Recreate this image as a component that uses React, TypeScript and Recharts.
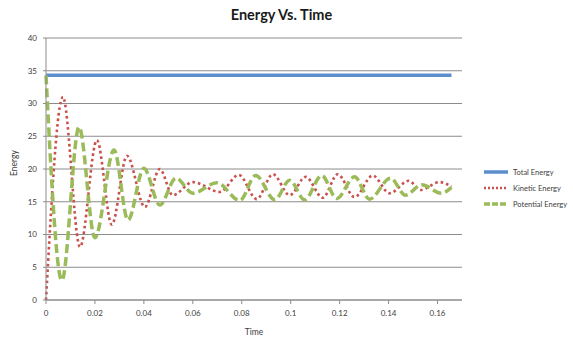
import React from "react";
import { LineChart, Line, XAxis, YAxis, CartesianGrid, Legend } from "recharts";

const timeTicks = [0, 0.02, 0.04, 0.06, 0.08, 0.1, 0.12, 0.14, 0.16];
const energyTicks = [0, 5, 10, 15, 20, 25, 30, 35, 40];

const totalTime = [0, 0.1657];
const totalEnergy = [34.3, 34.3];

const kineticTime = [
  0, 0.0069, 0.0139, 0.0208, 0.0269, 0.0331, 0.0404, 0.0465, 0.0518, 0.06,
  0.071, 0.0788, 0.0861, 0.0927, 0.0996, 0.1061, 0.1131, 0.1192, 0.1261,
  0.1335, 0.1404, 0.1482, 0.1531, 0.1608, 0.1657,
];
const kineticEnergy = [
  0, 31.0, 8.1, 24.4, 11.5, 22.0, 14.2, 20.0, 16.0, 18.0, 16.5, 19.1, 15.4,
  19.2, 16.0, 18.8, 15.6, 19.2, 15.7, 19.0, 16.3, 18.2, 16.8, 18.0, 17.3,
];

const potentialTime = [
  0, 0.0065, 0.0135, 0.02, 0.0278, 0.0335, 0.04, 0.0465, 0.0531, 0.06, 0.0698,
  0.0792, 0.0857, 0.0935, 0.0996, 0.1057, 0.1127, 0.1188, 0.1261, 0.1322,
  0.1408, 0.1469, 0.1535, 0.1616, 0.1657,
];
const potentialEnergy = [
  34.3, 3.0, 26.4, 9.5, 22.9, 12.2, 20.1, 14.5, 18.6, 16.3, 17.9, 15.2, 19.0,
  15.3, 18.3, 15.3, 19.0, 15.5, 18.8, 15.4, 18.6, 16.0, 17.6, 16.3, 17.2,
];

const toPoints = (ts: number[], vs: number[]) =>
  ts.map((t, i) => ({ t, e: vs[i] }));

const BLUE = "#5A8FCB";
const RED = "#C9504C";
const GREEN = "#9BBB59";
const GRID = "#8C8C8C";
const FONT = "Lato, 'Open Sans', sans-serif";

const legendItems = [
  { name: "Total Energy", color: BLUE, dash: undefined, width: 3.5 },
  { name: "Kinetic Energy", color: RED, dash: "2 2", width: 2.5 },
  { name: "Potential Energy", color: GREEN, dash: "6 2", width: 3.5 },
];

const LegendBox = () => (
  <div
    style={{
      fontFamily: FONT,
      fontSize: 7.5,
      color: "#404040",
      whiteSpace: "nowrap",
    }}
  >
    {legendItems.map((item) => (
      <div
        key={item.name}
        style={{ display: "flex", alignItems: "center", height: 16 }}
      >
        <svg width={26} height={8} style={{ marginRight: 3 }}>
          <line
            x1={0}
            y1={4}
            x2={24}
            y2={4}
            stroke={item.color}
            strokeWidth={item.width}
            strokeDasharray={item.dash}
          />
        </svg>
        <span>{item.name}</span>
      </div>
    ))}
  </div>
);

export default function App() {
  return (
    <div
      style={{
        position: "absolute",
        left: 0,
        top: 0,
        width: 573,
        height: 338,
        background: "#fff",
        fontFamily: FONT,
      }}
    >
      <div
        style={{
          position: "absolute",
          left: 0,
          width: 573,
          top: 6,
          textAlign: "center",
          fontSize: 14.5,
          fontWeight: 700,
          color: "#1a1a1a",
        }}
      >
        <span style={{ position: "relative", left: -5 }}>Energy Vs. Time</span>
      </div>
      <LineChart
        width={573}
        height={338}
        margin={{ top: 38, right: 111, bottom: 0, left: 0 }}
      >
        <CartesianGrid vertical={false} stroke={GRID} />
        <XAxis
          dataKey="t"
          type="number"
          domain={[0, 0.17]}
          ticks={timeTicks}
          height={38}
          stroke={GRID}
          tickSize={4}
          tickMargin={6}
          tick={{ fontSize: 8, fill: "#404040", fontFamily: FONT }}
          allowDuplicatedCategory={false}
          label={{
            value: "Time",
            position: "insideBottom",
            offset: 3,
            style: { fontSize: 8.5, fill: "#404040", fontFamily: FONT },
          }}
        />
        <YAxis
          type="number"
          domain={[0, 40]}
          ticks={energyTicks}
          width={46}
          stroke={GRID}
          tickSize={3}
          tickMargin={6}
          tick={{ fontSize: 8, fill: "#404040", fontFamily: FONT }}
          label={{
            value: "Energy",
            angle: -90,
            position: "insideLeft",
            offset: 14,
            dy: -6,
            style: {
              fontSize: 8.5,
              fill: "#404040",
              fontFamily: FONT,
              textAnchor: "middle",
            },
          }}
        />
        <Legend
          layout="vertical"
          align="center"
          verticalAlign="middle"
          wrapperStyle={{ left: 484, top: 164, width: 89 }}
          content={() => <LegendBox />}
        />
        <Line
          data={toPoints(totalTime, totalEnergy)}
          dataKey="e"
          name="Total Energy"
          type="linear"
          stroke={BLUE}
          strokeWidth={3.5}
          dot={false}
          isAnimationActive={false}
        />
        <Line
          data={toPoints(kineticTime, kineticEnergy)}
          dataKey="e"
          name="Kinetic Energy"
          type="monotone"
          stroke={RED}
          strokeWidth={2.6}
          strokeDasharray="2.6 3"
          dot={false}
          isAnimationActive={false}
        />
        <Line
          data={toPoints(potentialTime, potentialEnergy)}
          dataKey="e"
          name="Potential Energy"
          type="monotone"
          stroke={GREEN}
          strokeWidth={3.5}
          strokeDasharray="9 4"
          dot={false}
          isAnimationActive={false}
        />
      </LineChart>
    </div>
  );
}
